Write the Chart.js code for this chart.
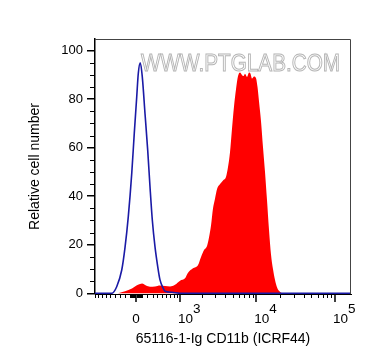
<!DOCTYPE html>
<html>
<head>
<meta charset="utf-8">
<script src="https://cdn.jsdelivr.net/npm/chart.js@4.4.1/dist/chart.umd.min.js"></script>
<style>
  html, body { margin: 0; padding: 0; background: #fff; }
  #wrap { width: 372px; height: 364px; }
</style>
</head>
<body>
<div id="wrap"><canvas id="grafico" width="372" height="364"></canvas></div>
<script>
// =========================
// DATA (x in biexponential display units, y = relative cell number)
// =========================
const isotypeX = [-0.52, -0.308, -0.245, -0.181, -0.139, -0.098, -0.054, -0.022, 0.009, 0.029, 0.054,
                  0.080, 0.114, 0.148, 0.177, 0.207, 0.241, 0.275, 0.304, 0.346, 0.368, 0.456, 0.558, 2.725];
const isotypeY = [0, 0, 2.7, 9.6, 19, 31.6, 49.5, 66, 81, 90.7, 95,
                  89, 74, 59, 44, 30, 19, 11, 5.5, 2, 0.8, 0.4, 0, 0];

const sampleX = [-0.228, -0.139, -0.051, 0.025, 0.076, 0.127, 0.177, 0.241, 0.304, 0.368, 0.431, 0.494,
                 0.558, 0.621, 0.659, 0.722, 0.786, 0.824, 0.862, 0.900, 0.925, 0.951, 0.976, 1.001,
                 1.027, 1.065, 1.103, 1.141, 1.166, 1.191, 1.217, 1.242, 1.267, 1.293, 1.318, 1.343,
                 1.362, 1.381, 1.407, 1.432, 1.451, 1.470, 1.496, 1.521, 1.540, 1.559, 1.584, 1.610,
                 1.635, 1.660, 1.686, 1.711, 1.736, 1.762, 1.787, 1.812, 1.850];
const sampleY = [0, 0.8, 2, 3.5, 4, 3.2, 2.7, 2.8, 3.2, 3.0, 2.8, 3.5,
                 5.2, 6.2, 8.5, 10.3, 11.7, 15, 17.8, 19.5, 23, 28, 35, 39,
                 43, 45, 46.5, 48, 52, 58, 68, 77, 84, 89.5, 91, 90,
                 89.5, 90.5, 89.2, 91, 90.5, 88.5, 89.3, 88.6, 85, 79, 71, 60,
                 50, 38.5, 26, 16, 10, 5.5, 2.5, 1, 0];

const xTickValues = [0, 1e3, 1e4, 1e5];
const xTickLabels = [["0", ""], ["10", "3"], ["10", "4"], ["10", "5"]];
const yTicks      = [0, 20, 40, 60, 80, 100];

const FONT = '"Liberation Sans", Arial, sans-serif';

// biexponential (arcsinh) transform: intensity -> display units
const W = 300;
function biex(v) { return Math.asinh(v / (2 * W)) / Math.LN10; }

// minor ticks of the x axis, in intensity units
const xMinor = [];
[10, 100, 1000, 10000].forEach(d => {
  for (let k = 1; k <= 9; k++) {
    if (k === 1 && d >= 1000) continue;
    xMinor.push(k * d);
    if (d <= 100) xMinor.push(-k * d);
  }
});

// =========================
// PLUGIN: ticks, frame, labels, watermark
// =========================
const axisExtras = {
  id: "axisExtras",
  beforeDatasetsDraw(chart) {
    const { ctx, chartArea: a } = chart;
    ctx.save();
    ctx.font = "23px " + FONT;
    ctx.strokeStyle = "#b5b5b5";
    ctx.lineWidth = 1;
    ctx.textAlign = "left";
    ctx.textBaseline = "alphabetic";
    ctx.strokeText("WWW.PTGLAB.COM", a.left + 46, a.top + 32, 199);
    ctx.restore();
  },
  afterDraw(chart) {
    const { ctx, chartArea: a, scales } = chart;
    const x = scales.x, y = scales.y;
    ctx.save();

    // top / right frame
    ctx.strokeStyle = "#444";
    ctx.lineWidth = 1;
    ctx.beginPath();
    ctx.moveTo(a.left, a.top + 0.5);
    ctx.lineTo(a.right - 0.5, a.top + 0.5);
    ctx.lineTo(a.right - 0.5, a.bottom);
    ctx.stroke();

    // x ticks
    ctx.strokeStyle = "#000";
    ctx.beginPath();
    xMinor.forEach(v => {
      const px = Math.round(x.getPixelForValue(biex(v))) + 0.5;
      if (px < a.left || px > a.right) return;
      ctx.moveTo(px, a.bottom);
      ctx.lineTo(px, a.bottom + 4);
    });
    ctx.stroke();
    ctx.lineWidth = 1.5;
    ctx.beginPath();
    xTickValues.forEach(v => {
      const px = Math.round(x.getPixelForValue(biex(v)));
      ctx.moveTo(px, a.bottom);
      ctx.lineTo(px, a.bottom + 8);
    });
    ctx.stroke();

    // y minor ticks
    ctx.lineWidth = 1;
    ctx.beginPath();
    for (let v = 5; v < 105; v += 5) {
      if (v % 20 === 0) continue;
      const py = Math.round(y.getPixelForValue(v)) + 0.5;
      ctx.moveTo(a.left - 5, py);
      ctx.lineTo(a.left, py);
    }
    ctx.stroke();

    // x tick labels
    ctx.fillStyle = "#000";
    ctx.font = "13.5px " + FONT;
    ctx.textBaseline = "alphabetic";
    xTickValues.forEach((v, i) => {
      const px = x.getPixelForValue(biex(v));
      const [base, exp] = xTickLabels[i];
      if (!exp) {
        ctx.textAlign = "center";
        ctx.fillText(base, px, a.bottom + 29);
      } else {
        ctx.textAlign = "left";
        ctx.fillText(base, px - 2, a.bottom + 29);
        const w = ctx.measureText(base).width;
        ctx.fillText(exp, px - 2 + w, a.bottom + 19);
      }
    });
    ctx.restore();
  }
};

// =========================
// CHART
// =========================
new Chart(document.getElementById("grafico"), {
  type: "line",
  data: {
    datasets: [
      {
        label: "Isotype",
        data: isotypeX.map((v, i) => ({ x: v, y: isotypeY[i] })),
        borderColor: "#1a1aa6",
        borderWidth: 1.6,
        fill: false,
        pointRadius: 0,
        cubicInterpolationMode: "monotone",
        order: 0
      },
      {
        label: "CD11b",
        data: sampleX.map((v, i) => ({ x: v, y: sampleY[i] })),
        backgroundColor: "#ff0000",
        borderWidth: 0,
        fill: "origin",
        pointRadius: 0,
        cubicInterpolationMode: "monotone",
        order: 1
      }
    ]
  },
  options: {
    responsive: false,
    animation: false,
    events: [],
    layout: { padding: { left: 0, top: 39, right: 21, bottom: 0 } },
    plugins: {
      legend: { display: false },
      tooltip: { enabled: false }
    },
    scales: {
      x: {
        type: "linear",
        min: -0.52,
        max: 2.725,
        ticks: { display: false },
        grid: { display: false },
        border: { display: true, color: "#000", width: 1 },
        title: {
          display: true,
          text: "65116-1-Ig CD11b (ICRF44)",
          color: "#000",
          font: { family: FONT, size: 14 },
          padding: { top: 0, bottom: 16 }
        },
        afterFit(s) { s.height = 70; }
      },
      y: {
        min: -0.3,
        max: 104.8,
        afterBuildTicks(s) { s.ticks = yTicks.map(v => ({ value: v })); },
        ticks: { color: "#000", font: { family: FONT, size: 13 }, padding: 4 },
        grid: { drawOnChartArea: false, tickLength: 8, color: "#000", lineWidth: 1.5 },
        border: { display: true, color: "#000", width: 1.5 },
        title: {
          display: true,
          text: "Relative cell number",
          color: "#000",
          font: { family: FONT, size: 14 },
          padding: { top: 27, bottom: 0 }
        },
        afterFit(s) { s.width = 95; }
      }
    }
  },
  plugins: [axisExtras]
});
</script>
</body>
</html>
